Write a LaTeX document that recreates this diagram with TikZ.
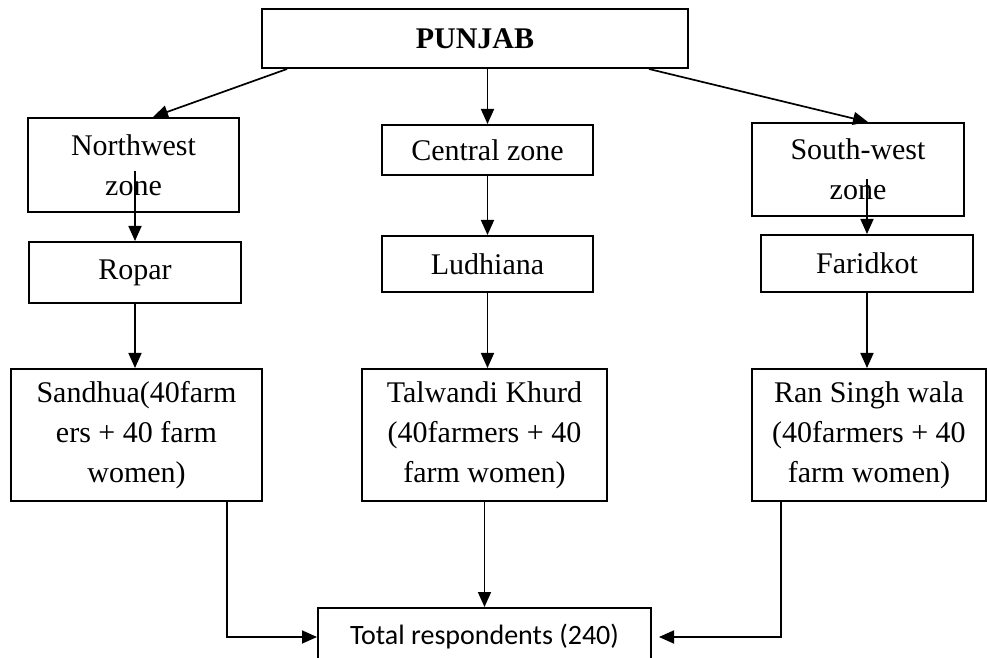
\documentclass[tikz,border=0pt]{standalone}
\usepackage{fontspec}
\setmainfont{Liberation Serif}
\newfontfamily\calibrifont{Carlito}
\usetikzlibrary{calc, positioning, arrows.meta}

\begin{document}
\begin{tikzpicture}[x=0.5pt, y=-0.5pt,
    box/.style={
        rectangle, draw=black, line width=1pt, fill=white,
        inner sep=0pt, align=center,
        font=\fontsize{15}{20}\selectfont},
    totbox/.style={box, font=\calibrifont\fontsize{14}{16}\selectfont},
    arr/.style={-{Triangle[length=7.5pt, width=6.5pt]}, line width=0.85pt}]
  \useasboundingbox (0,0) rectangle (987,658);
  % Main nodes
  \node[box, minimum width=213pt, minimum height=29.5pt] (punjab) at (475,38.5) {\textbf{PUNJAB}};
  \node[box, minimum width=105.5pt, minimum height=47pt]  (nw)   at (133.5,165) {Northwest\\ zone};
  \node[box, minimum width=105.5pt, minimum height=25pt]  (cz)   at (487.5,150) {Central zone};
  \node[box, minimum width=106pt, minimum height=46.5pt]  (sw)   at (858,169.5) {South-west\\ zone};
  \node[box, minimum width=106pt, minimum height=30.5pt]  (ropar) at (135,272.5) {Ropar};
  \node[box, minimum width=105.5pt, minimum height=28pt]  (ludh)  at (487.5,264) {Ludhiana};
  \node[box, minimum width=106pt, minimum height=28.5pt]  (fari)  at (867,263.5) {Faridkot};
  \node[box, minimum width=125.5pt, minimum height=66pt]  (sand)  at (136.5,435)
    {Sandhua(40farm\\ ers + 40 farm\\ women)};
  \node[box, minimum width=122.5pt, minimum height=66pt]  (talw)  at (484.5,435)
    {Talwandi Khurd\\ (40farmers + 40\\ farm women)};
  \node[box, minimum width=117pt, minimum height=66pt]    (rans)  at (869,435)
    {Ran Singh wala\\ (40farmers + 40\\ farm women)};
  \node[totbox, minimum width=166.5pt, minimum height=29pt] (total) at (484.5,637)
    {Total respondents (240)};
  % Arrows
  \draw[arr] ($(punjab.south west)+(26,0)$) -- ($(nw.north)+(19.5,0)$);
  \draw[arr] (cz.north |- punjab.south) -- (cz.north);
  \draw[arr] ($(punjab.south east)+(-40,0)$) -- ($(sw.north)+(10,0)$);
  \draw[arr] ($(ropar.north |- nw.center)+(0,6)$) -- (ropar.north);
  \draw[arr] (cz.south) -- (ludh.north);
  \draw[arr] ($(fari.north |- sw.center)+(0,10)$) -- (fari.north);
  \draw[arr] (ropar.south) -- (ropar.south |- sand.north);
  \draw[arr] (ludh.south) -- (ludh.south |- talw.north);
  \draw[arr] (fari.south) -- (fari.south |- rans.north);
  \draw[arr] (talw.south) -- (talw.south |- total.north);
  \draw[arr] ($(sand.south east)+(-36,0)$) |- (total.west);
  \draw[arr] ($(rans.south west)+(30,0)$) |- ($(total.east)+(7,0)$);
\end{tikzpicture}
\end{document}
